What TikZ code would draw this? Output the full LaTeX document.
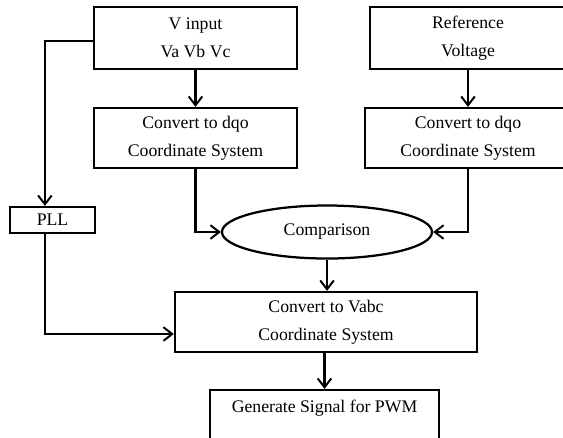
\documentclass[tikz,border=0pt]{standalone}
\usepackage{fontspec}
\setmainfont{Liberation Serif}
\usepackage{tikz}
\usetikzlibrary{shapes.geometric, arrows.meta, positioning, calc}
\tikzset{
  flowbox/.style={
    draw, line width=1.6pt, align=center,
    font=\fontsize{12.6}{20}\selectfont, fill=white,
    minimum height=1.5cm, inner sep=2pt
  },
  flowoval/.style={
    ellipse, draw, line width=1.6pt, align=center,
    font=\fontsize{12.6}{20}\selectfont, fill=white
  },
  flowarrow/.style={
    -{Straight Barb[length=2.2mm, width=3.4mm, line width=1.4pt]},
    line width=1.6pt
  },
}

\begin{document}
\begin{tikzpicture}[x=0.025cm, y=-0.025cm]
  \useasboundingbox (0,0) rectangle (563,437);
  \clip (0,0) rectangle (563,437);

  % Inputs
  \node[flowbox, minimum width=5.075cm, minimum height=1.55cm] (vin) at (195.5,38)
    {V input\\Va Vb Vc};
  \node[flowbox, minimum width=4.9cm, minimum height=1.55cm] (refv) at (468,38)
    {Reference\\Voltage};

  % dqo transforms
  \node[flowbox, minimum width=5.075cm] (dqoin) at (195.5,138)
    {Convert to dqo\\Coordinate System};
  \node[flowbox, minimum width=5.15cm] (dqoref) at (468,138)
    {Convert to dqo\\Coordinate System};

  % PLL
  \node[flowbox, minimum width=2.125cm, minimum height=0.65cm] (pll) at (52.5,220) {PLL};

  % Comparison and output
  \node[flowoval, minimum width=5.25cm, minimum height=1.325cm] (comp) at (327,232) {Comparison};
  \node[flowbox, minimum width=7.55cm] (vabc) at (326,322)
    {Convert to Vabc\\Coordinate System};
  \node[flowbox, minimum width=5.725cm] (pwm) at (324.5,420)
    {Generate Signal for PWM\\\mbox{}};

  % Connection arrows
  \draw[flowarrow] (vin.south) -- (dqoin.north);
  \draw[flowarrow] (refv.south) -- (dqoref.north);
  \draw[flowarrow] ([yshift=-0.075cm]vin.west) -| ([xshift=-0.19cm]pll.north);
  \draw[flowarrow] (dqoin.south) |- (comp.west);
  \draw[flowarrow] (dqoref.south) |- (comp.east);
  \draw[flowarrow] (comp.south) -- (vabc.north -| comp.south);
  \draw[flowarrow] ([xshift=-0.19cm]pll.south) |- ([yshift=-0.3cm]vabc.west);
  \draw[flowarrow] (vabc.south -| pwm.north) -- (pwm.north);
\end{tikzpicture}
\end{document}
